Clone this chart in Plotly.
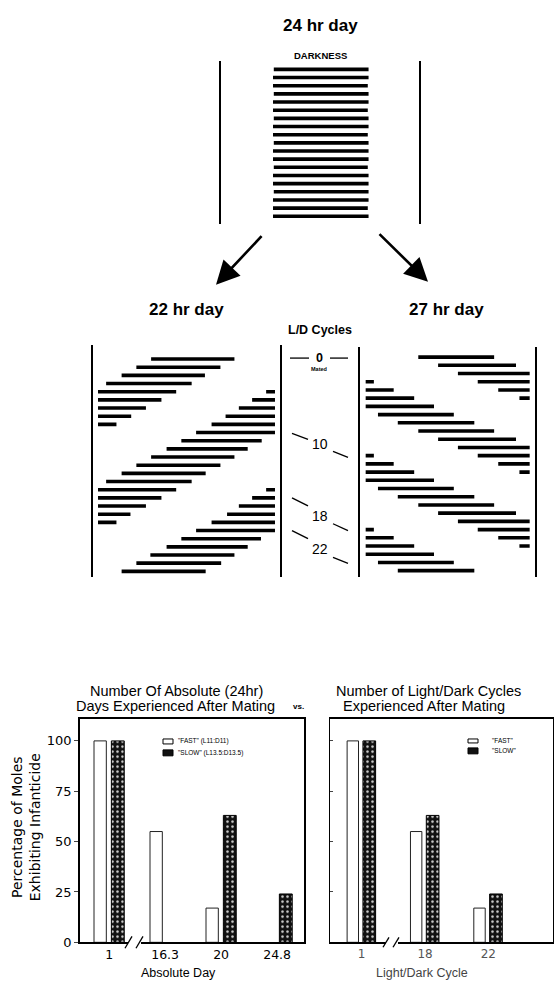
import plotly.graph_objects as go

# ---------------- data ----------------
# 24 hr day (constant darkness): one activity bar per row, hours on a 24 h axis
act24_start = [6.1, 6.0, 6.0, 6.1, 6.0, 6.0, 6.1, 6.0, 6.0, 6.1,
               6.0, 6.0, 6.1, 6.0, 6.0, 6.1, 6.0, 6.0, 6.0]
act24_end = [18.2, 18.2, 18.1, 18.2, 18.2, 18.1, 18.2, 18.2, 18.1, 18.2,
             18.2, 18.2, 18.1, 18.2, 18.2, 18.2, 18.2, 18.1, 18.2]

# 22 hr day: dark segments (start h, end h) per row
act22_segments = [
    [(7.2, 18.5)], [(5.2, 16.6)], [(3.2, 14.5)], [(1.1, 12.7)],
    [(0, 10.6), (22.8, 24)], [(0, 8.6), (20.9, 24)], [(0, 6.5), (19.1, 24)],
    [(0, 4.5), (17.3, 24)], [(0, 2.5), (15.4, 24)], [(13.3, 24)],
    [(11.3, 22.2)], [(9.3, 20.3)], [(7.2, 18.5)], [(5.2, 16.6)],
    [(3.2, 14.6)], [(1.1, 12.7)], [(0, 10.6), (22.8, 24)],
    [(0, 8.6), (20.9, 24)], [(0, 6.5), (19.1, 24)], [(0, 4.4), (17.5, 24)],
    [(0, 2.5), (15.4, 24)], [(13.3, 24)], [(11.3, 22.1)], [(9.3, 20.3)],
    [(7.1, 18.5)], [(5.2, 16.7)], [(3.2, 14.6)],
]

# 27 hr day: dark segments (start h, end h) per row
act27_segments = [
    [(7.7, 18.8)], [(10.6, 22.0)], [(13.5, 24)], [(0, 1.2), (16.4, 24)],
    [(0, 4.1), (19.4, 24)], [(0, 7.1), (22.5, 24)], [(0, 10.0)],
    [(1.8, 12.9)], [(4.7, 15.9)], [(7.7, 18.8)], [(10.6, 22.0)],
    [(13.5, 24)], [(0, 1.2), (16.4, 24)], [(0, 4.1), (19.4, 24)],
    [(0, 7.1), (22.5, 24)], [(0, 10.0)], [(1.8, 12.9)], [(4.7, 15.9)],
    [(7.7, 18.8)], [(10.6, 22.0)], [(13.5, 24)], [(0, 1.2), (16.4, 24)],
    [(0, 4.1), (19.4, 24)], [(0, 7.1), (22.5, 24)], [(0, 10.0)],
    [(1.8, 12.9)], [(4.7, 15.9)],
]

# L/D cycle labels between the two actograms
ld_labels = ["0", "10", "18", "22"]

# Bar charts
abs_days = ["1", "16.3", "20", "24.8"]
abs_fast = [100, 55, 17, None]
abs_slow = [100, None, 63, 24]

ld_cycles = ["1", "18", "22"]
ld_fast = [100, 55, 17]
ld_slow = [100, 63, 24]

pct_ticks = [0, 25, 50, 75, 100]
pct_labels = ["0", "25", "50", "75", "100"]

# ---------------- helpers ----------------
W, H = 554, 990


def PX(x):
    return x / W


def PY(y):
    return 1 - y / H


def seg_xy(rows):
    xs, ys = [], []
    for i, segs in enumerate(rows, start=1):
        for s, e in segs:
            xs += [s, e, None]
            ys += [i, i, None]
    return xs, ys


fig = go.Figure()

BAR_W = 3.6
# 24 hr actogram
xs24, ys24 = seg_xy([[(s, e)] for s, e in zip(act24_start, act24_end)])
fig.add_trace(go.Scatter(x=xs24, y=ys24, mode="lines", xaxis="x", yaxis="y",
                         line=dict(color="black", width=BAR_W), hoverinfo="skip"))
# 22 hr actogram
xs22, ys22 = seg_xy(act22_segments)
fig.add_trace(go.Scatter(x=xs22, y=ys22, mode="lines", xaxis="x2", yaxis="y2",
                         line=dict(color="black", width=BAR_W), hoverinfo="skip"))
# 27 hr actogram
xs27, ys27 = seg_xy(act27_segments)
fig.add_trace(go.Scatter(x=xs27, y=ys27, mode="lines", xaxis="x3", yaxis="y3",
                         line=dict(color="black", width=BAR_W), hoverinfo="skip"))

open_marker = dict(color="white", line=dict(color="#222", width=1))
stipple_marker = dict(color="#111",
                      pattern=dict(shape=".", fgcolor="#d0d0d0", bgcolor="#111",
                                   size=5, solidity=0.2, fillmode="replace"),
                      line=dict(color="black", width=1))

# Left bar chart (absolute days)
fig.add_trace(go.Bar(x=abs_days, y=abs_fast, xaxis="x4", yaxis="y4",
                     marker=open_marker, offset=-0.27, width=0.22))
fig.add_trace(go.Bar(x=abs_days, y=abs_slow, xaxis="x4", yaxis="y4",
                     marker=stipple_marker, offset=0.04, width=0.23))
# Right bar chart (L/D cycles)
fig.add_trace(go.Bar(x=ld_cycles, y=ld_fast, xaxis="x5", yaxis="y5",
                     marker=open_marker, offset=-0.23, width=0.18))
fig.add_trace(go.Bar(x=ld_cycles, y=ld_slow, xaxis="x5", yaxis="y5",
                     marker=stipple_marker, offset=0.02, width=0.2))

hidden_x = dict(visible=False, showgrid=False, zeroline=False, fixedrange=True)
acto_y = dict(showline=True, mirror=True, linecolor="black", linewidth=1.6,
              showticklabels=False, ticks="", showgrid=False, zeroline=False)

layout = dict(
    width=W, height=H, autosize=False,
    margin=dict(l=0, r=0, t=0, b=0),
    paper_bgcolor="white", plot_bgcolor="white",
    showlegend=False, barmode="overlay",
    font=dict(family="DejaVu Sans", color="black"),
    xaxis=dict(domain=[PX(221), PX(419)], range=[-0.64, 24.64], anchor="y", **hidden_x),
    yaxis=dict(domain=[PY(226), PY(62)], range=[19.97, 0.03], anchor="x", **acto_y),
    xaxis2=dict(domain=[PX(93), PX(280)], range=[-0.68, 24.68], anchor="y2", **hidden_x),
    yaxis2=dict(domain=[PY(582), PY(348)], range=[27.73, -0.70], anchor="x2", **acto_y),
    xaxis3=dict(domain=[PX(360), PX(535)], range=[-0.83, 24.78], anchor="y3", **hidden_x),
    yaxis3=dict(domain=[PY(582), PY(350)], range=[27.81, -0.21], anchor="x3", **acto_y),
    xaxis4=dict(domain=[PX(80), PX(304)], range=[-0.52, 3.48], anchor="y4", type="category",
                showline=True, mirror=True, linecolor="black", linewidth=1.5,
                ticks="", showgrid=False, zeroline=False,
                tickfont=dict(size=12.5, family="DejaVu Sans")),
    yaxis4=dict(domain=[PY(950), PY(725)], range=[0, 110.8], anchor="x4",
                showline=True, mirror=True, linecolor="black", linewidth=1.5,
                tickvals=pct_ticks, ticktext=pct_labels, ticks="outside", ticklen=4,
                tickfont=dict(size=13, family="DejaVu Sans"),
                showgrid=False, zeroline=False),
    xaxis5=dict(domain=[PX(330), PX(553)], range=[-0.5, 3.02], anchor="y5", type="category",
                showline=True, mirror=True, linecolor="black", linewidth=1.5,
                ticks="", showgrid=False, zeroline=False,
                tickfont=dict(size=12, family="DejaVu Sans", color="#555")),
    yaxis5=dict(domain=[PY(950), PY(725)], range=[0, 110.8], anchor="x5",
                showline=True, mirror=True, linecolor="black", linewidth=1.3,
                tickvals=pct_ticks, showticklabels=False, ticks="inside", ticklen=3,
                showgrid=False, zeroline=False),
)
fig.update_layout(**layout)

ann = []
BOLD = "Liberation Sans, Arial"


def text(x, y, s, size, family=BOLD, bold=False, xanchor="center", color="black", angle=0):
    t = f"<b>{s}</b>" if bold else s
    ann.append(dict(x=PX(x), y=PY(y), xref="paper", yref="paper", text=t,
                    showarrow=False, xanchor=xanchor, yanchor="middle",
                    textangle=angle, font=dict(size=size, family=family, color=color)))


# Top section titles
text(320, 26, "24 hr day", 17, bold=True)
text(320, 56, "DARKNESS", 9.5, bold=True)
text(186, 312, "22 hr day", 17, bold=True)
text(446, 312, "27 hr day", 17, bold=True)
text(320, 333, "L/D Cycles", 12.5, bold=True)

# L/D cycle markers
text(319, 361, ld_labels[0], 12.5, bold=True)
text(319, 372, "Mated", 5.5, bold=True)
text(320, 448, ld_labels[1], 14)
text(320, 520, ld_labels[2], 14)
text(320, 553, ld_labels[3], 14)

# Arrows
for tip, dx, dy in [((216, 287), 47, -50), ((428, 284), -50, -49)]:
    ann.append(dict(x=PX(tip[0]), y=PY(tip[1]), xref="paper", yref="paper",
                    ax=dx, ay=dy, text="", showarrow=True, arrowhead=2,
                    arrowsize=1.8, arrowwidth=2.6, arrowcolor="black"))

# Bottom titles
text(176, 697, "Number Of Absolute (24hr)", 14.5)
text(175, 712, "Days Experienced After Mating", 14.5)
text(298, 712, "vs.", 8, family=BOLD, bold=True)
text(428, 697, "Number of Light/Dark Cycles", 14.5)
text(424, 712, "Experienced After Mating", 14.5)

# Axis titles
text(178, 981, "Absolute Day", 12.5)
text(422, 981, "Light/Dark Cycle", 12.5, color="#444")
ann.append(dict(x=PX(26), y=PY(834), xref="paper", yref="paper",
                text="Percentage of Moles<br>Exhibiting Infanticide",
                showarrow=False, textangle=-90, xanchor="center", yanchor="middle",
                font=dict(size=14, family="DejaVu Sans")))

# Legends
text(176, 747, '"FAST" (L11:D11)', 6.5, xanchor="left")
text(176, 759, '"SLOW" (L13.5:D13.5)', 6.5, xanchor="left")
text(490, 747, '"FAST"', 6.5, xanchor="left")
text(490, 757, '"SLOW"', 6.5, xanchor="left")

fig.update_layout(annotations=ann)

shapes = []


def line(x0, y0, x1, y1, w=1.3, color="black"):
    shapes.append(dict(type="line", xref="paper", yref="paper",
                       x0=PX(x0), y0=PY(y0), x1=PX(x1), y1=PY(y1),
                       line=dict(color=color, width=w)))


def rect(x0, y0, x1, y1, fill, lc="black", w=1):
    shapes.append(dict(type="rect", xref="paper", yref="paper",
                       x0=PX(x0), y0=PY(y0), x1=PX(x1), y1=PY(y1),
                       fillcolor=fill, line=dict(color=lc, width=w)))


# L/D cycle dashes
line(290, 361, 309, 361)
line(330, 361, 348, 361)
line(292, 437, 308, 443)
line(333, 455, 348, 461)
line(292, 502, 308, 510)
line(333, 528, 348, 535)
line(292, 535, 308, 543)
line(333, 562, 348, 568)

# Axis breaks
rect(128, 946, 141, 954, "white", lc="white", w=0)
line(125, 956, 132, 944)
line(136, 956, 143, 944)
rect(386, 946, 398, 954, "white", lc="white", w=0)
line(383, 955, 389, 945)
line(393, 955, 399, 945)

# Legend swatches
rect(163, 745, 173, 750, "white", w=1)
rect(163, 756, 173, 762, "#111", w=1)
rect(468, 745, 478, 749, "white", w=1)
rect(468, 754, 478, 760, "#111", w=1)

fig.update_layout(shapes=shapes)

fig.write_html("out.html")
